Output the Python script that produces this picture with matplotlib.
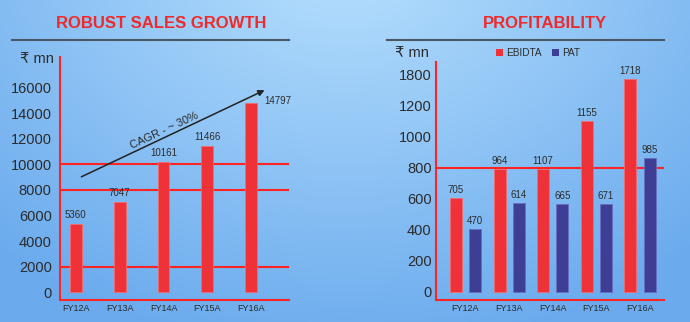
import matplotlib
matplotlib.use('Agg')
import matplotlib.pyplot as plt
from matplotlib.lines import Line2D
from matplotlib.patches import Patch
import numpy as np

plt.rcParams['font.family'] = ['Liberation Sans', 'DejaVu Sans']

years = ['FY12A', 'FY13A', 'FY14A', 'FY15A', 'FY16A']
sales = [5360, 7047, 10161, 11466, 14797]
sales_ticks = [0, 2000, 4000, 6000, 8000, 10000, 12000, 14000, 16000]
sales_lines = [2000, 8000, 10000]

# printed values on the profitability panel
ebidta = [705, 964, 1107, 1155, 1718]
pat = [470, 614, 665, 671, 985]
# bar heights as drawn in the source, read against its own axis labels
ebidta_drawn = [604, 791, 791, 1103, 1372]
pat_drawn = [404, 572, 566, 566, 862]
profit_ticks = [0, 200, 400, 600, 800, 1000, 1200, 1400]
profit_tick_labels = ['0', '200', '400', '600', '800', '1000', '1200', '1800']
profit_lines = [800]

RED = '#ee3238'
NAVY = '#3e3f94'
LINE_RED = '#ff2424'
TXT = '#2b2b2b'

fig = plt.figure(figsize=(6.9, 3.22), dpi=100)

# blue gradient background
bg = fig.add_axes([0, 0, 1, 1], zorder=-10)
yy, xx = np.mgrid[0:1:161j, 0:1:345j]
t = np.sqrt(((xx - 0.5) / 0.75) ** 2 + ((yy + 0.15) / 1.25) ** 2)
t = np.clip((t - 0.1) / 0.9, 0, 1)
light = np.array([0.69, 0.86, 0.99])
dark = np.array([0.42, 0.67, 0.93])
img = light[None, None, :] * (1 - t[..., None]) + dark[None, None, :] * t[..., None]
bg.imshow(img, aspect='auto', extent=[0, 1, 0, 1], origin='upper')
bg.axis('off')

def style(ax):
    for s in ['top', 'right']:
        ax.spines[s].set_visible(False)
    for s in ['left', 'bottom']:
        ax.spines[s].set_color(LINE_RED)
        ax.spines[s].set_linewidth(1.5)
    ax.patch.set_alpha(0)
    ax.tick_params(length=0)
    ax.tick_params(axis='x', labelsize=6.5, labelcolor=TXT, pad=3)

# left panel
ax1 = fig.add_axes([60 / 690, 22 / 322, 229 / 690, 243 / 322])
style(ax1)
x = np.arange(len(years))
for v in sales_lines:
    ax1.axhline(v, color=LINE_RED, lw=1.5, zorder=1)
ax1.bar(x, sales, width=0.27, color=RED, edgecolor='#f46a6e', lw=0.6, zorder=2)
ax1.set_xlim(-0.36, 4.86)
ax1.set_ylim(-627, 18430)
ax1.set_yticks(sales_ticks)
ax1.tick_params(axis='y', labelsize=10.5, labelcolor=TXT, pad=6)
ax1.set_xticks(x)
ax1.set_xticklabels(years)
for i, v in enumerate(sales):
    if i == len(sales) - 1:
        ax1.annotate(str(v), (i, v), xytext=(19, 1.5), textcoords='offset points',
                     ha='center', va='center', fontsize=7, color=TXT)
    else:
        ax1.annotate(str(v), (i, v), xytext=(0, 6.5), textcoords='offset points',
                     ha='center', va='center', fontsize=7, color=TXT)
ax1.annotate('', xy=(4.36, 15920), xytext=(0.07, 8940),
             arrowprops=dict(arrowstyle='-|>', color='#222222', lw=1.1,
                             mutation_scale=9))
ax1.text(2.02, 12630, 'CAGR - ~ 30%', rotation=25, ha='center', va='center',
         fontsize=8, color=TXT)

# right panel
ax2 = fig.add_axes([435.7 / 690, 22 / 322, 228.3 / 690, 238 / 322])
style(ax2)
for v in profit_lines:
    ax2.axhline(v, color=LINE_RED, lw=1.5, zorder=1)
off = 0.218
w = 0.275
ax2.bar(x - off, ebidta_drawn, width=w, color=RED, edgecolor='#f46a6e', lw=0.6, zorder=2)
ax2.bar(x + off, pat_drawn, width=w, color=NAVY, edgecolor='#6a6cc0', lw=0.6, zorder=2)
ax2.set_xlim(-0.68, 4.55)
ax2.set_ylim(-54, 1482)
ax2.set_yticks(profit_ticks)
ax2.set_yticklabels(profit_tick_labels)
ax2.tick_params(axis='y', labelsize=10.5, labelcolor=TXT, pad=3)
ax2.set_xticks(x)
ax2.set_xticklabels(years)
for i in range(len(years)):
    ax2.annotate(str(ebidta[i]), (i - off, ebidta_drawn[i]), xytext=(0, 5.5),
                 textcoords='offset points', ha='center', va='center', fontsize=7, color=TXT)
    ax2.annotate(str(pat[i]), (i + off, pat_drawn[i]), xytext=(0, 5.5),
                 textcoords='offset points', ha='center', va='center', fontsize=7, color=TXT)

handles = [Patch(facecolor=RED, edgecolor='none', label='EBIDTA'),
           Patch(facecolor=NAVY, edgecolor='none', label='PAT')]
fig.legend(handles=handles, loc='center', bbox_to_anchor=(538 / 690, 1 - 53 / 322),
           ncol=2, frameon=False, fontsize=7.2, handlelength=0.7, handleheight=0.7,
           handletextpad=0.3, columnspacing=1.1, labelcolor=TXT)

# titles and rules
fig.text(161 / 690, 1 - 23 / 322, 'ROBUST SALES GROWTH', ha='center', va='center',
         fontsize=12, fontweight='bold', color='#ee2a2a')
fig.text(545 / 690, 1 - 23 / 322, 'PROFITABILITY', ha='center', va='center',
         fontsize=12, fontweight='bold', color='#ee2a2a')
fig.add_artist(Line2D([12 / 690, 289 / 690], [1 - 40 / 322] * 2, color='#4a5866', lw=1.5))
fig.add_artist(Line2D([387 / 690, 664 / 690], [1 - 40 / 322] * 2, color='#4a5866', lw=1.5))
fig.text(36.5 / 690, 1 - 59 / 322, '₹ mn', ha='center', va='center', fontsize=10.5, color=TXT)
fig.text(412 / 690, 1 - 53 / 322, '₹ mn', ha='center', va='center', fontsize=10.5, color=TXT)

fig.savefig('out.png', dpi=100)
